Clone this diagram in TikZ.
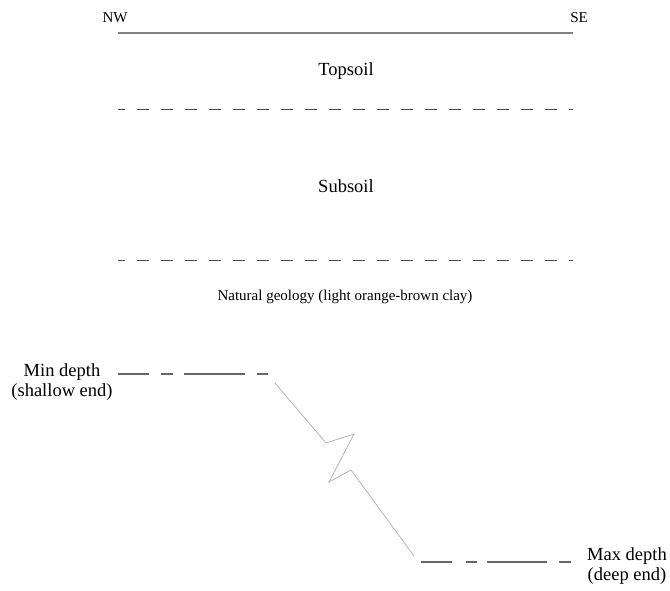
\documentclass[tikz,border=0pt]{standalone}
\usepackage{fontspec}
\setmainfont{Liberation Serif}
\begin{document}
\begin{tikzpicture}[x=1pt,y=-1pt,
  lbl/.style={font=\fontsize{15}{17}\selectfont, inner sep=0pt, align=center, text=black},
  biglbl/.style={font=\fontsize{18.5}{19.5}\selectfont, inner sep=0pt, align=center, text=black},
  surface/.style={draw=black!50, line width=1.4pt},
  horizon/.style={draw=black!70, line width=1pt, dash pattern=on 12pt off 12pt, dash phase=5pt},
  depthline/.style={draw=black!60, line width=1.1pt},
  cutline/.style={draw=black!32, line width=0.7pt, line join=miter}]
\useasboundingbox (0,0) rectangle (670,590);
% ground surface
\node[lbl] (nw) at (115,18) {NW};
\node[lbl] (se) at (579,18) {SE};
\coordinate (s1) at (118,33);
\coordinate (s2) at (573,33);
\draw[surface] (s1) -- (s2);
% layer labels and boundaries
\node[biglbl] (topsoil) at (346,71) {Topsoil};
\coordinate (h1a) at (118,109);
\coordinate (h1b) at (573,109);
\draw[horizon] (h1a) -- (h1b);
\node[biglbl] (subsoil) at (346,186) {Subsoil};
\coordinate (h2a) at (118,260);
\coordinate (h2b) at (573,260);
\draw[horizon] (h2a) -- (h2b);
\node[lbl] (geology) at (345,297) {Natural geology (light orange-brown clay)};
% min depth
\node[biglbl] (mind) at (62,382) {Min depth\\(shallow end)};
\coordinate (m1) at (118,374);
\draw[depthline] (m1) -- ++(31,0);
\draw[depthline] ([xshift=43pt]m1) -- ++(12,0);
\draw[depthline] ([xshift=66pt]m1) -- ++(61,0);
\draw[depthline] ([xshift=139pt]m1) -- ++(11,0);
% max depth
\node[biglbl, anchor=west] (maxd) at (587,566) {Max depth\\(deep end)};
\coordinate (x1) at (421,562);
\draw[depthline] (x1) -- ++(31,0);
\draw[depthline] ([xshift=45pt]x1) -- ++(11,0);
\draw[depthline] ([xshift=66pt]x1) -- ++(60,0);
\draw[depthline] ([xshift=138pt]x1) -- ++(12,0);
% broken slope
\coordinate (z0) at (275,383);
\coordinate (z5) at (414,556);
\draw[cutline] (z0) -- (326,443) -- (354,434) -- (329,482) -- (351,470) -- (z5);
\end{tikzpicture}
\end{document}
